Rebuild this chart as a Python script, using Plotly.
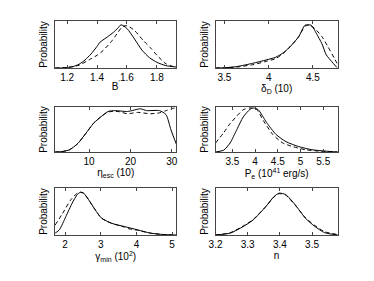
import plotly.graph_objects as go

# ---------------- data (normalised probability, fraction of panel height) ----
b_x_solid = [1.12, 1.16, 1.2, 1.24, 1.28, 1.32, 1.36, 1.40, 1.42, 1.46, 1.51, 1.54, 1.56, 1.60, 1.65, 1.70, 1.75, 1.80, 1.86, 1.93]
b_y_solid = [0.0, 0.0, 0.01, 0.03, 0.08, 0.17, 0.30, 0.46, 0.55, 0.64, 0.76, 0.85, 0.92, 0.84, 0.62, 0.38, 0.22, 0.12, 0.05, 0.02]
b_x_dash = [1.12, 1.2, 1.28, 1.35, 1.40, 1.44, 1.50, 1.54, 1.57, 1.60, 1.65, 1.71, 1.76, 1.80, 1.86, 1.93]
b_y_dash = [0.0, 0.01, 0.06, 0.18, 0.27, 0.37, 0.58, 0.76, 0.88, 0.90, 0.80, 0.58, 0.42, 0.27, 0.09, 0.01]

d_x_solid = [3.40, 3.50, 3.64, 3.82, 3.97, 4.08, 4.17, 4.26, 4.34, 4.41, 4.48, 4.54, 4.60, 4.65, 4.71, 4.77]
d_y_solid = [0.0, 0.005, 0.03, 0.10, 0.17, 0.23, 0.33, 0.49, 0.67, 0.91, 0.91, 0.73, 0.52, 0.28, 0.14, 0.01]
d_x_dash = [3.40, 3.50, 3.64, 3.82, 3.97, 4.08, 4.17, 4.26, 4.34, 4.41, 4.46, 4.52, 4.60, 4.67, 4.74, 4.78]
d_y_dash = [0.0, 0.005, 0.02, 0.07, 0.14, 0.20, 0.32, 0.49, 0.67, 0.89, 0.91, 0.84, 0.67, 0.45, 0.21, 0.07]

eta_x_solid = [1.8, 3.5, 5.3, 7.3, 9.2, 11.1, 13.1, 14.6, 16.2, 19.3, 22.4, 23.9, 27.0, 28.6, 29.8, 31.1]
eta_y_solid = [0.0, 0.01, 0.05, 0.19, 0.41, 0.64, 0.80, 0.90, 0.92, 0.90, 0.96, 0.92, 0.92, 0.83, 0.49, 0.17]
eta_x_dash = [1.8, 3.5, 5.3, 7.3, 9.2, 11.1, 13.1, 14.6, 17.0, 19.3, 21.7, 24.8, 27.0, 28.6, 30.2, 31.1]
eta_y_dash = [0.0, 0.01, 0.05, 0.19, 0.41, 0.64, 0.80, 0.89, 0.90, 0.85, 0.88, 0.85, 0.87, 0.92, 0.97, 0.98]

pe_x_solid = [3.13, 3.31, 3.45, 3.60, 3.74, 3.89, 3.96, 4.07, 4.25, 4.46, 4.68, 4.96, 5.25, 5.54, 5.82]
pe_y_solid = [0.0, 0.04, 0.20, 0.50, 0.78, 0.95, 0.98, 0.94, 0.66, 0.39, 0.23, 0.12, 0.05, 0.02, 0.0]
pe_x_dash = [3.13, 3.31, 3.45, 3.60, 3.74, 3.89, 4.04, 4.18, 4.39, 4.61, 4.83, 5.11, 5.40, 5.82]
pe_y_dash = [0.20, 0.43, 0.63, 0.80, 0.94, 0.98, 0.94, 0.70, 0.39, 0.20, 0.12, 0.05, 0.02, 0.0]

g_x_solid = [1.72, 1.84, 2.02, 2.20, 2.34, 2.43, 2.52, 2.66, 2.84, 3.02, 3.30, 3.66, 4.03, 4.39, 4.76, 5.12]
g_y_solid = [0.04, 0.11, 0.39, 0.68, 0.86, 0.91, 0.89, 0.75, 0.54, 0.36, 0.25, 0.18, 0.11, 0.04, 0.01, 0.0]
g_x_dash = [1.72, 1.93, 2.16, 2.34, 2.43, 2.52, 2.66, 2.84, 3.02, 3.30, 3.66, 3.80, 4.03, 4.39, 4.76, 5.12]
g_y_dash = [0.21, 0.46, 0.75, 0.89, 0.91, 0.89, 0.75, 0.54, 0.36, 0.25, 0.17, 0.13, 0.10, 0.04, 0.01, 0.0]

n_x_solid = [3.20, 3.246, 3.286, 3.317, 3.357, 3.382, 3.398, 3.418, 3.448, 3.479, 3.509, 3.539, 3.58]
n_y_solid = [0.0, 0.04, 0.18, 0.32, 0.61, 0.82, 0.89, 0.86, 0.64, 0.36, 0.18, 0.05, 0.0]
n_x_dash = [3.20, 3.246, 3.286, 3.317, 3.357, 3.382, 3.398, 3.418, 3.448, 3.479, 3.509, 3.539, 3.58]
n_y_dash = [0.0, 0.05, 0.19, 0.33, 0.61, 0.81, 0.88, 0.85, 0.63, 0.37, 0.20, 0.07, 0.01]

x_titles = ["B<sup>'</sup>", "δ<sub>D</sub> (10)", "η<sub>esc</sub> (10)",
            "P<sub>e</sub> (10<sup>41</sup> erg/s)", "γ<sub>min</sub> (10<sup>2</sup>)", "n"]
x_ranges = [[1.12, 1.93], [3.40, 4.78], [1.8, 31.1], [3.13, 5.82], [1.72, 5.12], [3.2, 3.58]]
x_ticks = [[1.2, 1.4, 1.6, 1.8], [3.5, 4, 4.5], [10, 20, 30],
           [3.5, 4, 4.5, 5, 5.5], [2, 3, 4, 5], [3.2, 3.3, 3.4, 3.5]]
x_ticktext = [["1.2", "1.4", "1.6", "1.8"], ["3.5", "4", "4.5"], ["10", "20", "30"],
              ["3.5", "4", "4.5", "5", "5.5"], ["2", "3", "4", "5"], ["3.2", "3.3", "3.4", "3.5"]]

series = [
    (b_x_solid, b_y_solid, b_x_dash, b_y_dash),
    (d_x_solid, d_y_solid, d_x_dash, d_y_dash),
    (eta_x_solid, eta_y_solid, eta_x_dash, eta_y_dash),
    (pe_x_solid, pe_y_solid, pe_x_dash, pe_y_dash),
    (g_x_solid, g_y_solid, g_x_dash, g_y_dash),
    (n_x_solid, n_y_solid, n_x_dash, n_y_dash),
]

# ---------------- layout geometry (page px; page body has an 8px margin) -----
OFF = 8
W, H = 374 - OFF, 281 - OFF
col_px = [(49, 173), (213, 338)]
row_px = [(21, 68), (107, 152), (188, 235)]

FONT = "Liberation Sans, Arial, Helvetica, sans-serif"
fig = go.Figure()
layout = dict(
    width=W, height=H,
    margin=dict(l=0, r=0, t=0, b=0),
    paper_bgcolor="white", plot_bgcolor="white",
    showlegend=False,
    font=dict(family=FONT, size=10, color="black"),
)

for i, (xs, ys, xd, yd) in enumerate(series):
    r, c = divmod(i, 2)
    k = "" if i == 0 else str(i + 1)
    xa, ya = "x" + k, "y" + k
    fig.add_trace(go.Scatter(x=xs, y=ys, mode="lines", xaxis=xa, yaxis=ya,
                             line=dict(color="black", width=1.0, shape="spline", smoothing=0.6)))
    fig.add_trace(go.Scatter(x=xd, y=yd, mode="lines", xaxis=xa, yaxis=ya,
                             line=dict(color="black", width=1.0, dash="4px,3px", shape="spline", smoothing=0.6)))
    x0, x1 = col_px[c]
    y0, y1 = row_px[r]
    x0, x1, y0, y1 = x0 - OFF, x1 - OFF, y0 - OFF, y1 - OFF
    layout["xaxis" + k] = dict(
        domain=[x0 / W, x1 / W], anchor=ya, range=x_ranges[i],
        tickmode="array", tickvals=x_ticks[i], ticktext=x_ticktext[i],
        ticks="inside", ticklen=3, tickwidth=1, tickcolor="#444",
        showline=True, linecolor="#444", linewidth=1, mirror="ticks",
        showgrid=False, zeroline=False,
        tickfont=dict(size=10, family=FONT),
        title=dict(text=x_titles[i], standoff=0, font=dict(size=10, family=FONT)),
    )
    layout["yaxis" + k] = dict(
        domain=[1 - y1 / H, 1 - y0 / H], anchor=xa, range=[0, 1],
        showticklabels=False, ticks="",
        showline=True, linecolor="#444", linewidth=1, mirror=True,
        showgrid=False, zeroline=False,
        title=dict(text="Probability", standoff=4, font=dict(size=10, family=FONT)),
    )

fig.update_layout(**layout)
fig.write_html("out.html")
